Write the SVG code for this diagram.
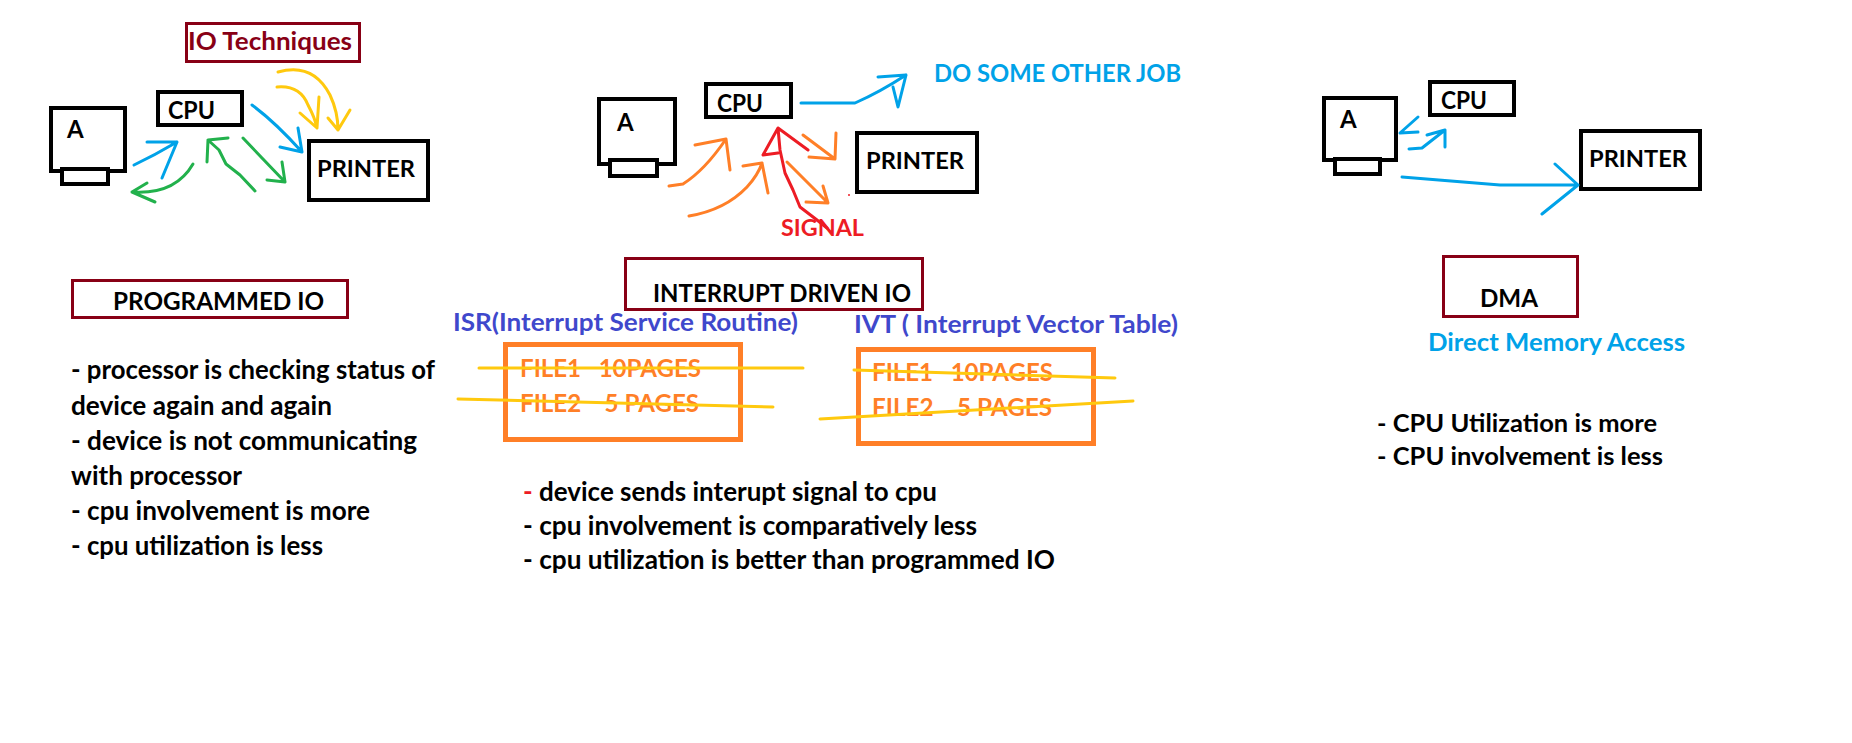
<svg xmlns="http://www.w3.org/2000/svg" width="1852" height="743" viewBox="0 0 1852 743">
<style>
text{font-family:Lato,"Liberation Sans",sans-serif;font-weight:bold;white-space:pre}
.box{fill:none;stroke:#000;stroke-width:4}
.mon{fill:#fff;stroke:#000;stroke-width:4}
.title{fill:none;stroke:#880015;stroke-width:3}
.obox{fill:none;stroke:#FF7F27;stroke-width:5}
.k{fill:#000}
.c path{fill:none;stroke-width:3;stroke-linecap:round;stroke-linejoin:round}
.y{stroke:#FFC90E}.b{stroke:#00A2E8}.g{stroke:#22B14C}.o{stroke:#FF7F27}.r{stroke:#ED1C24}
.of{fill:#FF7F27;font-size:24px}
.isr{fill:#3F48CC;font-size:25px}
</style>
<rect width="1852" height="743" fill="#fff"/>

<!-- Section 1: Programmed IO -->
<g id="io-techniques"><rect class="title" x="186.5" y="23.5" width="173" height="38"/><text x="188" y="50" font-size="25" fill="#880015" textLength="164" lengthAdjust="spacingAndGlyphs">IO Techniques</text></g>
<g id="p-monitor"><rect class="mon" x="51" y="108" width="74" height="63"/><rect class="mon" x="62" y="169" width="46" height="15"/><text class="k" x="67" y="138" font-size="24">A</text></g>
<g id="p-cpu"><rect class="box" x="158" y="92" width="84" height="33"/><text class="k" x="168" y="119" font-size="24" textLength="47" lengthAdjust="spacingAndGlyphs">CPU</text></g>
<g id="p-printer"><rect class="box" x="309" y="141" width="119" height="59"/><text class="k" x="317" y="177" font-size="23" textLength="98" lengthAdjust="spacingAndGlyphs">PRINTER</text></g>
<g id="programmed-io"><rect class="title" x="72.5" y="280.5" width="275" height="37"/><text class="k" x="113" y="310" font-size="25" textLength="211" lengthAdjust="spacingAndGlyphs">PROGRAMMED IO</text></g>
<g id="p-notes" class="k" font-size="26">
<text x="71" y="379" textLength="364" lengthAdjust="spacingAndGlyphs">- processor is checking status of</text>
<text x="71" y="415" textLength="261" lengthAdjust="spacingAndGlyphs">device again and again</text>
<text x="71" y="450" textLength="346" lengthAdjust="spacingAndGlyphs">- device is not communicating</text>
<text x="71" y="485" textLength="171" lengthAdjust="spacingAndGlyphs">with processor</text>
<text x="71" y="520" textLength="299" lengthAdjust="spacingAndGlyphs">- cpu involvement is more</text>
<text x="71" y="555" textLength="252" lengthAdjust="spacingAndGlyphs">- cpu utilization is less</text>
</g>

<!-- Section 2: Interrupt driven IO -->
<g id="i-monitor"><rect class="mon" x="599" y="99" width="76" height="65"/><rect class="mon" x="610" y="160" width="47" height="16"/><text class="k" x="617" y="131" font-size="24">A</text></g>
<g id="i-cpu"><rect class="box" x="706" y="84" width="85" height="33"/><text class="k" x="717" y="112" font-size="24" textLength="46" lengthAdjust="spacingAndGlyphs">CPU</text></g>
<g id="i-printer"><rect class="box" x="857" y="133" width="120" height="59"/><text class="k" x="866" y="169" font-size="23" textLength="98" lengthAdjust="spacingAndGlyphs">PRINTER</text></g>
<g id="other-job"><text x="934" y="82" font-size="25" fill="#00A2E8" textLength="247" lengthAdjust="spacingAndGlyphs">DO SOME OTHER JOB</text></g>
<g id="signal"><text x="781" y="236" font-size="22" fill="#ED1C24" textLength="83" lengthAdjust="spacingAndGlyphs">SIGNAL</text></g>
<g id="interrupt-io"><rect class="title" x="625.5" y="258.5" width="297" height="51"/><text class="k" x="653" y="302" font-size="24" textLength="258" lengthAdjust="spacingAndGlyphs">INTERRUPT DRIVEN IO</text></g>
<g id="isr"><text class="isr" x="453" y="331" textLength="345" lengthAdjust="spacingAndGlyphs">ISR(Interrupt Service Routine)</text>
<rect class="obox" x="505.5" y="344.5" width="235" height="95"/>
<text class="of" x="520" y="377" textLength="181" lengthAdjust="spacingAndGlyphs">FILE1   10PAGES</text>
<text class="of" x="520" y="412" textLength="179" lengthAdjust="spacingAndGlyphs">FILE2    5 PAGES</text></g>
<g id="ivt"><text class="isr" x="854" y="333" textLength="324" lengthAdjust="spacingAndGlyphs">IVT ( Interrupt Vector Table)</text>
<rect class="obox" x="858.5" y="349.5" width="235" height="94"/>
<text class="of" x="872" y="381" textLength="181" lengthAdjust="spacingAndGlyphs">FILE1   10PAGES</text>
<text class="of" x="872" y="416" textLength="180" lengthAdjust="spacingAndGlyphs">FILE2    5 PAGES</text></g>
<g id="i-notes" class="k" font-size="26">
<text x="523" y="501" textLength="414" lengthAdjust="spacingAndGlyphs"><tspan fill="#ED1C24">-</tspan> device sends interupt signal to cpu</text>
<text x="523" y="535" textLength="454" lengthAdjust="spacingAndGlyphs">- cpu involvement is comparatively less</text>
<text x="523" y="569" textLength="532" lengthAdjust="spacingAndGlyphs">- cpu utilization is better than programmed IO</text>
</g>

<!-- Section 3: DMA -->
<g id="d-monitor"><rect class="mon" x="1324" y="98" width="72" height="62"/><rect class="mon" x="1335" y="159" width="45" height="15"/><text class="k" x="1340" y="128" font-size="24">A</text></g>
<g id="d-cpu"><rect class="box" x="1430" y="82" width="84" height="33"/><text class="k" x="1441" y="109" font-size="24" textLength="46" lengthAdjust="spacingAndGlyphs">CPU</text></g>
<g id="d-printer"><rect class="box" x="1581" y="131" width="119" height="58"/><text class="k" x="1589" y="167" font-size="23" textLength="98" lengthAdjust="spacingAndGlyphs">PRINTER</text></g>
<g id="dma"><rect class="title" x="1443.5" y="256.5" width="134" height="60"/><text class="k" x="1480" y="307" font-size="25" textLength="58" lengthAdjust="spacingAndGlyphs">DMA</text>
<text x="1428" y="351" font-size="24" fill="#00A2E8" textLength="257" lengthAdjust="spacingAndGlyphs">Direct Memory Access</text></g>
<g id="d-notes" class="k" font-size="24">
<text x="1377" y="432" textLength="280" lengthAdjust="spacingAndGlyphs">- CPU Utilization is more</text>
<text x="1377" y="465" textLength="286" lengthAdjust="spacingAndGlyphs">- CPU involvement is less</text>
</g>

<!-- Connectors -->
<g id="connectors" class="c">
<path class="y" d="M278,72 Q313,62 330,95 Q338,112 338,130 M328,118 L338,130 L350,110"/>
<path class="y" d="M277,87 Q300,85 308,105 Q315,118 317,128 M300,113 L317,128 L319,97"/>
<path class="b" d="M252,105 Q275,122 302,152 M280,147 L302,152 L298,128"/>
<path class="b" d="M134,165 Q155,155 177,142 M147,142 L177,142 L162,178"/>
<path class="g" d="M193,164 Q175,195 132,192 M147,183 L132,192 L155,202"/>
<path class="g" d="M255,191 L240,175 L226,164 L219,150 L208,140 M207,162 L208,140 L228,138"/>
<path class="g" d="M243,138 L262,158 L285,182 M267,180 L285,182 L282,162"/>

<path class="b" d="M801,103 L855,103 Q880,92 906,75 M878,77 L906,75 L898,107 L893,87"/>
<path class="o" d="M669,186 L683,184 Q705,170 726,139 M695,145 L726,139 L730,170"/>
<path class="o" d="M689,216 Q725,210 747,187 Q758,175 762,163 M743,166 L762,163 L768,193"/>
<path class="o" d="M803,135 L835,159 M809,157 L835,159 L836,133"/>
<path class="o" d="M787,162 L828,203 M806,202 L828,203 L823,186"/>
<path class="r" d="M827,228 L817,220 L800,207 L793,190 L785,173 L780,150 L778,128 M778,153 L763,155 L778,128 L808,150"/>
<circle cx="849" cy="195" r="1" fill="#ED1C24"/>

<path class="b" d="M1418,117 L1400,133 L1418,132"/>
<path class="b" d="M1409,149 L1422,148 L1445,130 M1427,135 L1445,130 L1445,147"/>
<path class="b" d="M1402,177 L1500,185 L1578,185 M1555,164 L1578,185 L1542,214"/>

<path class="y" d="M479,368 L803,368"/>
<path class="y" d="M458,399 L773,407"/>
<path class="y" d="M854,370 L1115,378"/>
<path class="y" d="M820,419 L1133,401"/>
</g>
</svg>
